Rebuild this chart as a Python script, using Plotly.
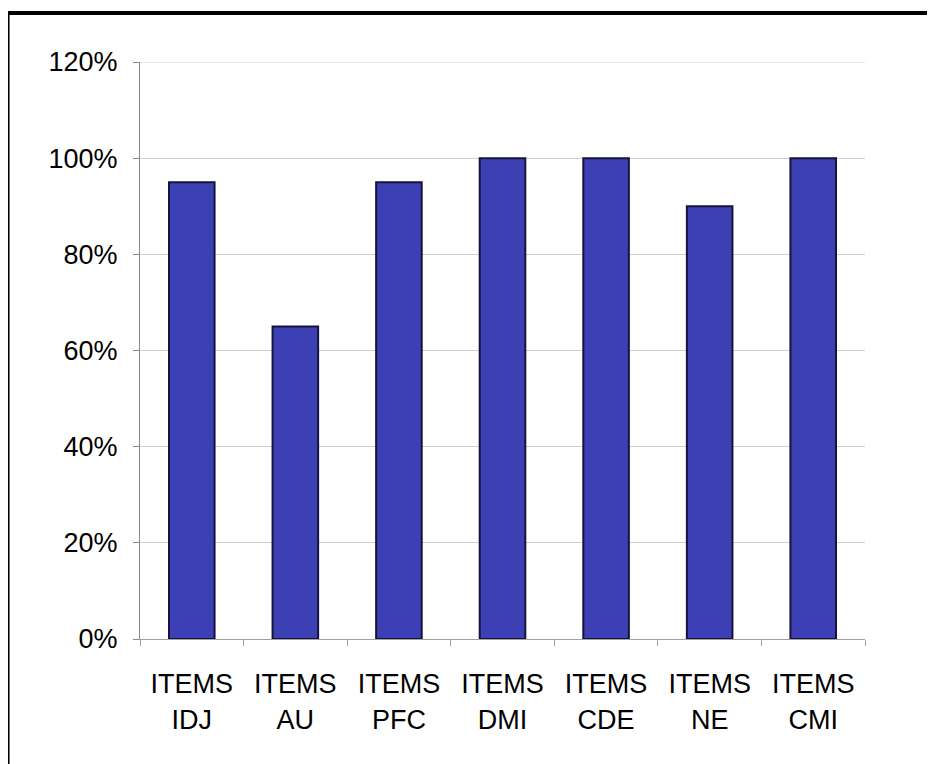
import plotly.graph_objects as go

categories = ["ITEMS<br>IDJ", "ITEMS<br>AU", "ITEMS<br>PFC", "ITEMS<br>DMI", "ITEMS<br>CDE", "ITEMS<br>NE", "ITEMS<br>CMI"]
values = [0.95, 0.65, 0.95, 1.00, 1.00, 0.90, 1.00]
y_ticks = [0, 0.2, 0.4, 0.6, 0.8, 1.0, 1.2]

fig = go.Figure()
fig.add_trace(go.Bar(
    x=categories, y=values,
    marker=dict(color="#3d40b5", line=dict(color="#14143c", width=2)),
    width=0.44,
))

fig.update_layout(
    width=935, height=764,
    margin=dict(l=132, r=78, t=54, b=133),
    paper_bgcolor="white", plot_bgcolor="white",
    font=dict(family="Liberation Sans, Arial", size=27, color="black"),
    showlegend=False,
)
fig.update_yaxes(
    range=[0, 1.2], tickvals=y_ticks, tickformat=".0%",
    showgrid=True, gridcolor="#cfcfcf", gridwidth=1,
    showline=True, linecolor="#8a8a8a", linewidth=1,
    ticks="outside", ticklen=6, tickcolor="#8a8a8a",
    zeroline=False, ticklabelstandoff=10,
)
fig.update_xaxes(
    showline=True, linecolor="#a0a0a0", linewidth=1,
    ticks="outside", ticklen=6, tickcolor="#a0a0a0", tickson="boundaries",
    showgrid=False, ticklabelstandoff=21,
)
# top gridline at 120%
fig.add_shape(type="line", xref="paper", yref="y", x0=0, x1=1, y0=1.2, y1=1.2,
              line=dict(color="#cfcfcf", width=1))
# figure border
fig.add_shape(type="line", xref="paper", yref="paper", x0=-0.182, x1=1.15, y0=1.085, y1=1.085,
              line=dict(color="black", width=4))
fig.add_shape(type="line", xref="paper", yref="paper", x0=-0.182, x1=-0.182, y0=1.085, y1=-0.25,
              line=dict(color="black", width=3))
fig.write_html("out.html")
